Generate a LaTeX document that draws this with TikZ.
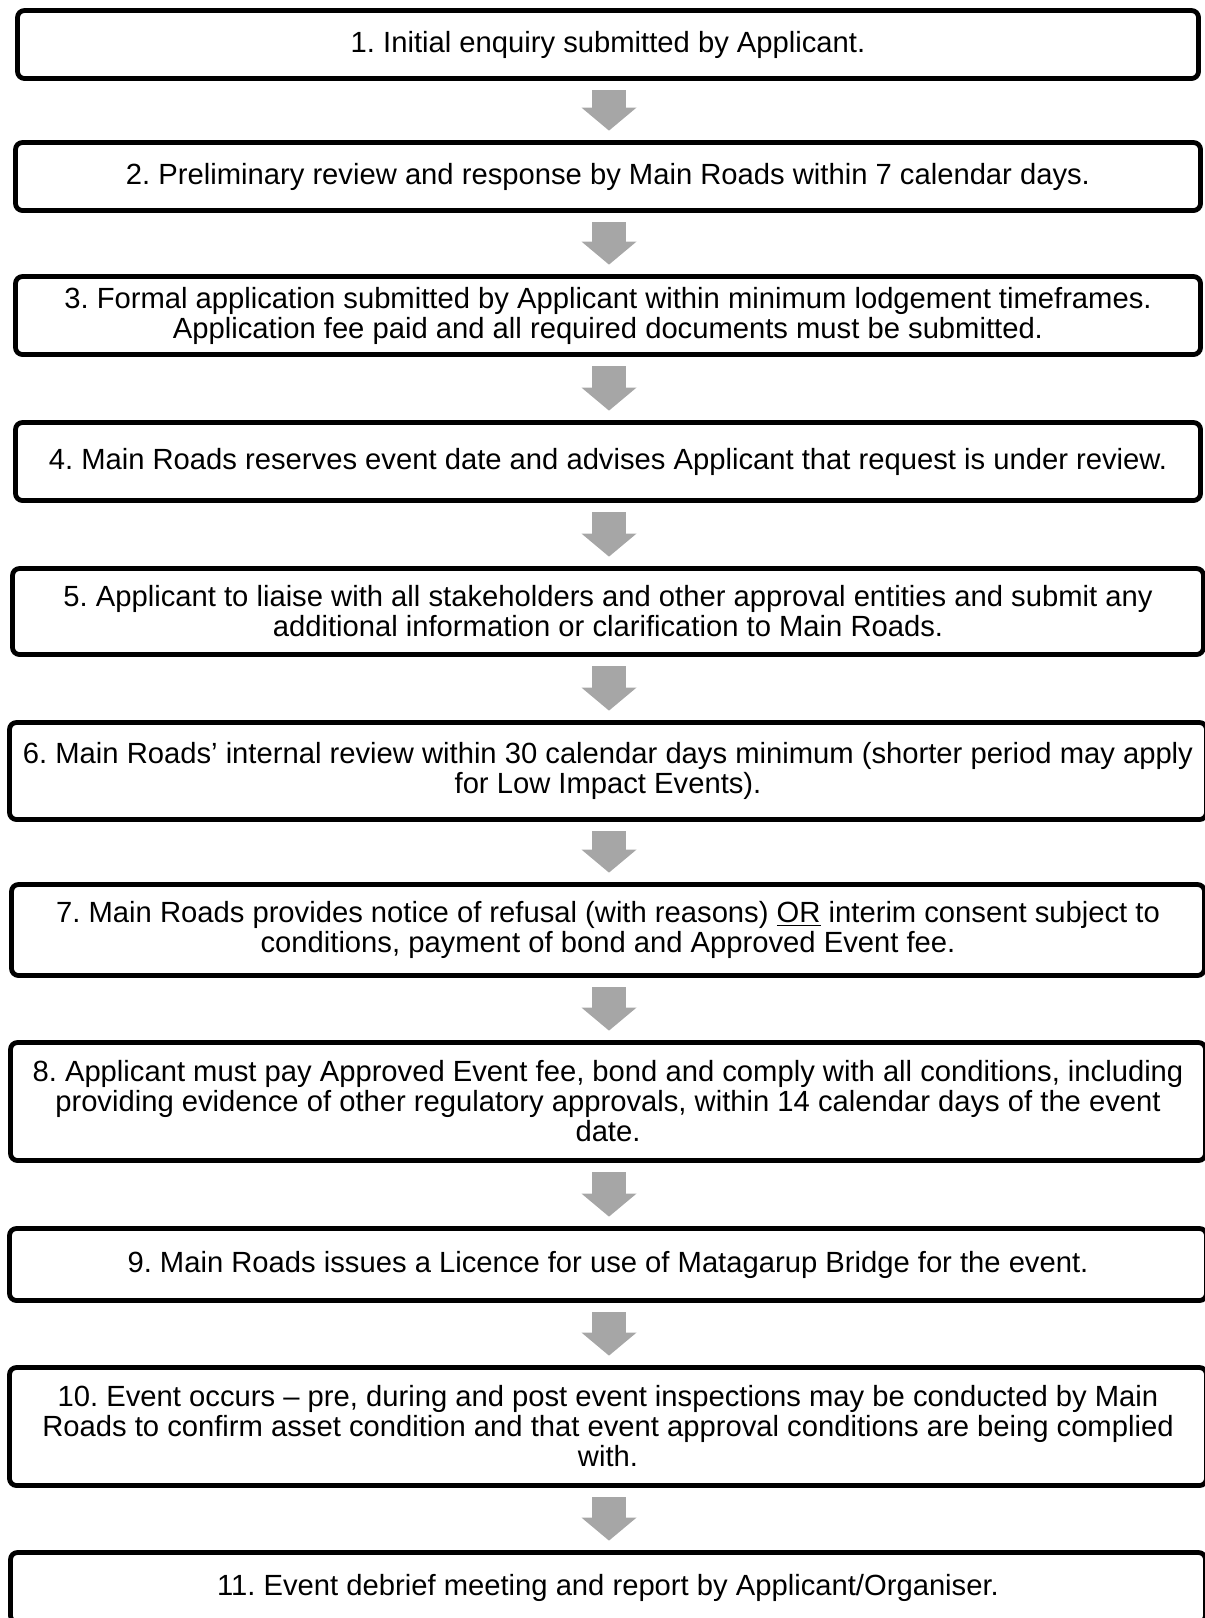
\documentclass[tikz,border=0pt]{standalone}
\usepackage{fontspec}
\setmainfont{Liberation Sans}
\usetikzlibrary{arrows.meta}
\definecolor{arrowgray}{RGB}{166,166,166}

\begin{document}
\frenchspacing
\begin{tikzpicture}[x=.5pt,y=-.5pt,
    stepbox/.style={draw=black,line width=2.4pt,rounded corners=3.5pt,align=center,
      inner sep=0pt,font=\fontsize{14.6}{15}\selectfont},
    flowarrow/.style={draw=arrowgray,line width=17pt,
      -{Triangle[width=27.5pt,length=11.5pt,line width=0pt]}}]
  \useasboundingbox (0,0) rectangle (1205,1618);
  % steps
  \node[stepbox,minimum width=590.5pt,minimum height=34pt] (s1) at (608,44.5)
    {1. Initial enquiry submitted by Applicant.};
  \node[stepbox,minimum width=592.5pt,minimum height=34pt] (s2) at (608,176.5)
    {2. Preliminary review and response by Main Roads within 7 calendar days.};
  \node[stepbox,minimum width=592.5pt,minimum height=39pt] (s3) at (608,315.5)
    {3. Formal application submitted by Applicant within minimum lodgement timeframes.\\
     Application fee paid and all required documents must be submitted.};
  \node[stepbox,minimum width=592.5pt,minimum height=39pt] (s4) at (608,461.5)
    {4. Main Roads reserves event date and advises Applicant that request is under review.};
  \node[stepbox,minimum width=595.5pt,minimum height=43pt] (s5) at (608,611.5)
    {5. Applicant to liaise with all stakeholders and other approval entities and submit any\\
     additional information or clarification to Main Roads.};
  \node[stepbox,minimum width=598.5pt,minimum height=48.5pt] (s6) at (608,771)
    {6. Main Roads’ internal review within 30 calendar days minimum (shorter period may apply\\
     for Low Impact Events).};
  \node[stepbox,minimum width=596.5pt,minimum height=45.5pt] (s7) at (608,930)
    {7. Main Roads provides notice of refusal (with reasons) \underline{OR} interim consent subject to\\
     conditions, payment of bond and Approved Event fee.};
  \node[stepbox,minimum width=597.5pt,minimum height=59pt] (s8) at (608,1101.5)
    {8. Applicant must pay Approved Event fee, bond and comply with all conditions, including\\
     providing evidence of other regulatory approvals, within 14 calendar days of the event\\
     date.};
  \node[stepbox,minimum width=598.5pt,minimum height=36pt] (s9) at (608,1264.5)
    {9. Main Roads issues a Licence for use of Matagarup Bridge for the event.};
  \node[stepbox,minimum width=598.5pt,minimum height=59pt] (s10) at (608,1426.5)
    {10. Event occurs – pre, during and post event inspections may be conducted by Main\\
     Roads to confirm asset condition and that event approval conditions are being complied\\
     with.};
  \node[stepbox,minimum width=597.5pt,minimum height=35pt] (s11) at (608,1587.5)
    {11. Event debrief meeting and report by Applicant/Organiser.};
  % arrows
  \foreach \a/\b in {s1/s2,s2/s3,s3/s4,s4/s5,s5/s6,s6/s7,s7/s8,s8/s9,s9/s10,s10/s11}
    \draw[flowarrow] ([xshift=.5pt,yshift=-4.75pt]\a.south) -- ([xshift=.5pt,yshift=4.75pt]\b.north);
\end{tikzpicture}
\end{document}
